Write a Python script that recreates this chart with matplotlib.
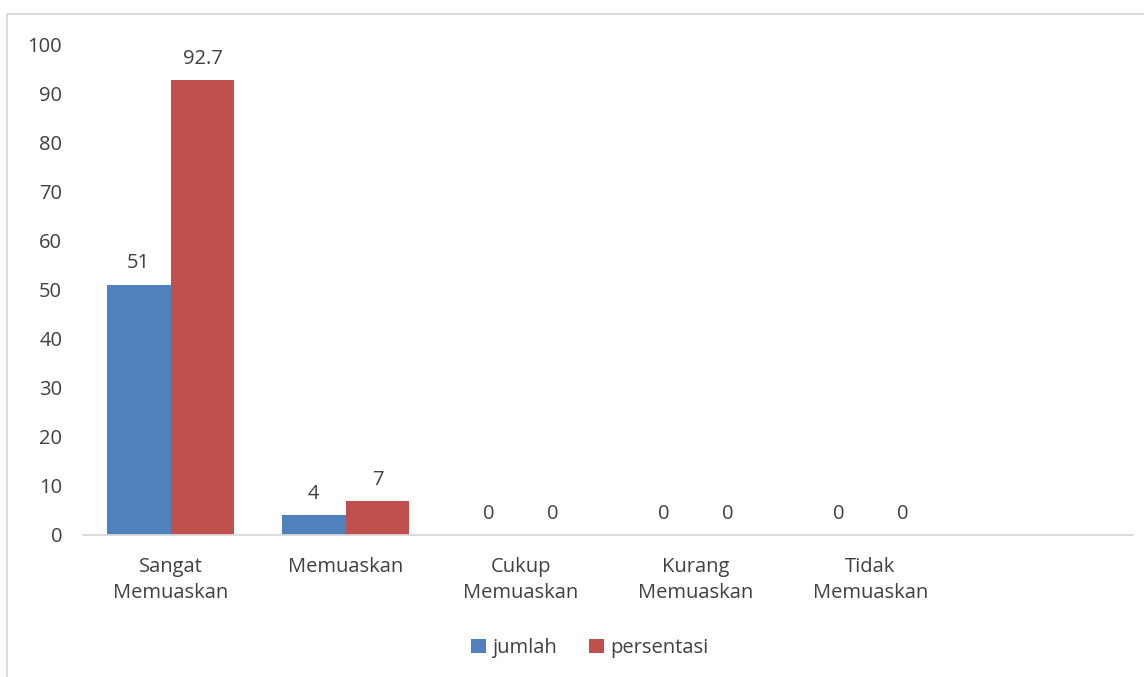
import matplotlib.pyplot as plt
from matplotlib.patches import Rectangle
import numpy as np

categories = ["Sangat\nMemuaskan", "Memuaskan", "Cukup\nMemuaskan", "Kurang\nMemuaskan", "Tidak\nMemuaskan", ""]
jumlah = [51, 4, 0, 0, 0]
persentasi = [92.7, 7, 0, 0, 0]
jumlah_labels = ["51", "4", "0", "0", "0"]
persentasi_labels = ["92.7", "7", "0", "0", "0"]

plt.rcParams["font.family"] = ["Open Sans", "DejaVu Sans"]
text_color = "#404040"
blue = "#4f81bd"
red = "#c0504d"
fs = 14.5

fig = plt.figure(figsize=(11.44, 6.77), dpi=100)
ax = fig.add_axes([83 / 1144, 1 - 535 / 677, 1050 / 1144, (535 - 44) / 677])

x = np.arange(len(jumlah))
w = 0.365
b1 = ax.bar(x - w / 2, jumlah, w, color=blue, label="jumlah")
b2 = ax.bar(x + w / 2, persentasi, w, color=red, label="persentasi")

for bars, labels in ((b1, jumlah_labels), (b2, persentasi_labels)):
    for bar, lab in zip(bars, labels):
        ax.annotate(lab, (bar.get_x() + bar.get_width() / 2, bar.get_height()),
                    xytext=(0, 8), textcoords="offset points", ha="center", va="bottom",
                    fontsize=fs, color=text_color)

ax.set_xlim(-0.5, len(categories) - 0.5)
ax.set_ylim(0, 100)
ax.set_yticks(range(0, 101, 10))
ax.set_xticks(range(len(categories)))
ax.set_xticklabels(categories, linespacing=1.4)
ax.tick_params(axis="both", length=0, labelsize=fs, labelcolor=text_color)
ax.tick_params(axis="y", pad=15)
ax.tick_params(axis="x", pad=16)
for s in ("top", "right", "left"):
    ax.spines[s].set_visible(False)
ax.spines["bottom"].set_color("#d9d9d9")
ax.spines["bottom"].set_linewidth(1.3)

leg = fig.legend(loc="center", bbox_to_anchor=(590 / 1144, 1 - 648 / 677), ncol=2, frameon=False,
                 fontsize=fs, handlelength=0.75, handleheight=0.75, handletextpad=0.3, columnspacing=1.6)
for t in leg.get_texts():
    t.set_color(text_color)

fig.patches.append(Rectangle((7 / 1144, -0.05), 1.2, 1 - 14 / 677 + 0.05, transform=fig.transFigure,
                             fill=False, edgecolor="#d9d9d9", linewidth=1.3))

fig.savefig("out.png", dpi=100)
